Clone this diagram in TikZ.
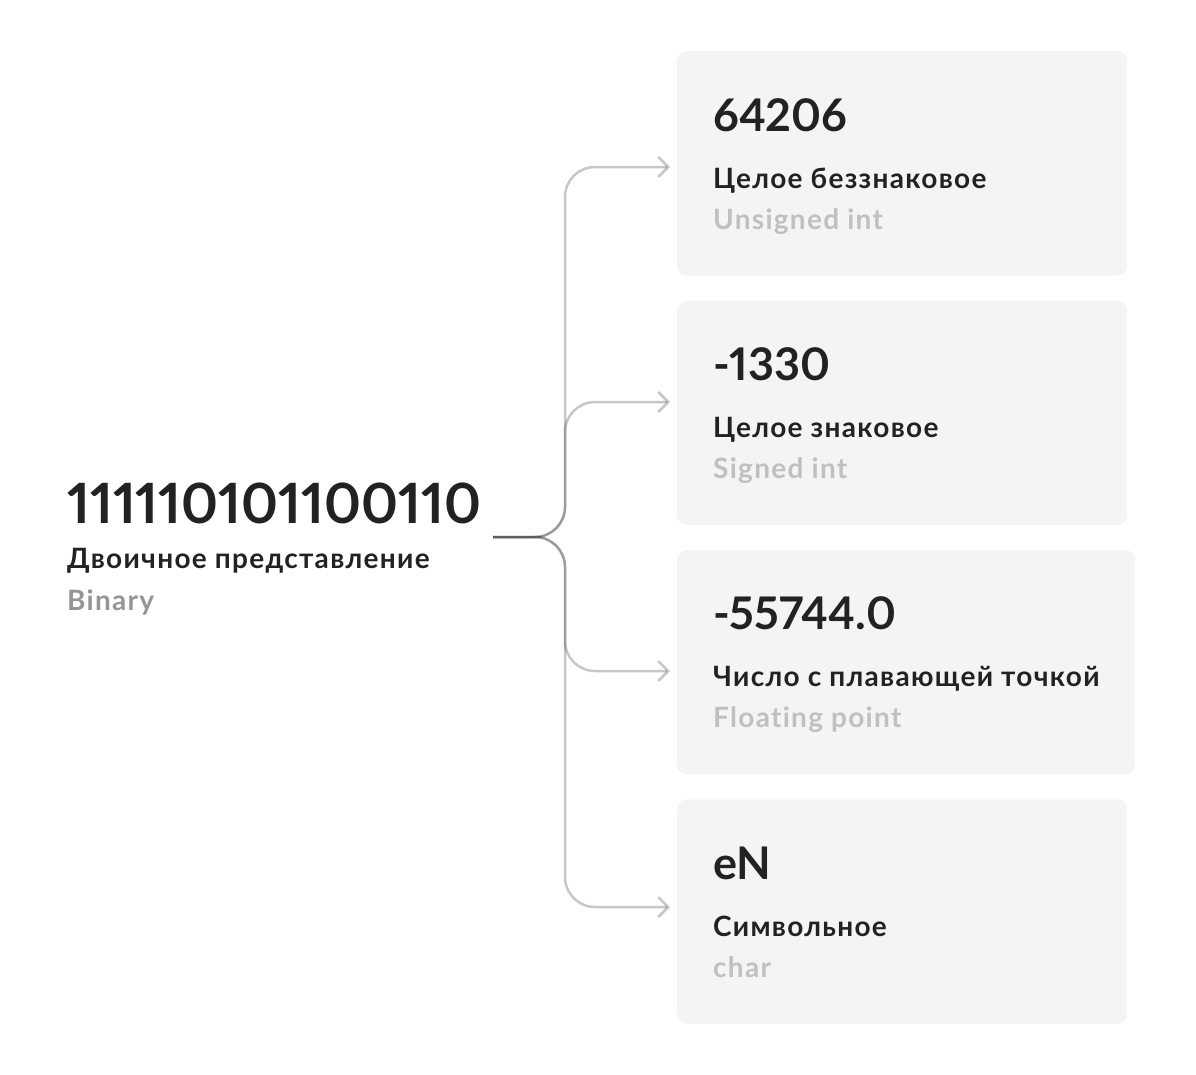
\documentclass[tikz,border=0pt]{standalone}
\usepackage{fontspec}
\setmainfont[Numbers = Proportional]{Lato}
\usepackage{tikz}
\usetikzlibrary{arrows.meta}
\usetikzlibrary{positioning}
\definecolor{ink}{HTML}{222222}
\definecolor{cardbg}{HTML}{F4F4F4}
\definecolor{midgray}{HTML}{959595}
\definecolor{lightgray}{HTML}{C0C0C0}
\tikzset{
  card/.style = {rectangle, fill = cardbg, rounded corners = 10pt,
    minimum width = 450pt, minimum height = 224.5pt, inner sep = 0pt},
  bigval/.style = {anchor = base west, inner sep = 0pt, text = ink,
    font = \fontsize{55.5}{55.5}\selectfont\bfseries},
  value/.style = {anchor = base west, inner sep = 0pt, text = ink,
    font = \fontsize{45}{45}\selectfont\bfseries},
  title/.style = {anchor = base west, inner sep = 0pt, text = ink,
    font = \fontsize{28}{28}\selectfont\bfseries\addfontfeature{LetterSpace = 4.6, Ligatures = NoCommon}},
  subtitle/.style = {title, text = lightgray},
  link/.style = {draw = black, draw opacity = 0.22, line width = 2.5pt,
    rounded corners = 30pt, -{Straight Barb[length = 10pt, width = 20pt]}},
}

\begin{document}
\begin{tikzpicture}[x = 1pt, y = -1pt]
    \useasboundingbox (0,0) rectangle (1196,1074);
    \node [bigval] (bin) at (67,523) {111110101100110};
    \node [title] (binru) at (67,568) {Двоичное представление};
    \node [subtitle, text = midgray] (binen) at (67,610) {Binary};

    \node [card, anchor = north west] (b1) at (677,51) {};
    \node [card, below = 24.5pt of b1] (b2) {};
    \node [card, minimum width = 458pt, below right = 24.5pt and 0pt of b2.south west] (b3) {};
    \node [card, below right = 24.5pt and 0pt of b3.south west] (b4) {};

    \node [value] (v1) at ([shift = {(36,80)}]b1.north west) {64206};
    \node [title] (t1) at ([shift = {(36,137)}]b1.north west) {Целое беззнаковое};
    \node [subtitle] (s1) at ([shift = {(36,178)}]b1.north west) {Unsigned int};
    \node [value] (v2) at ([shift = {(36,80)}]b2.north west) {-1330};
    \node [title] (t2) at ([shift = {(36,137)}]b2.north west) {Целое знаковое};
    \node [subtitle] (s2) at ([shift = {(36,178)}]b2.north west) {Signed int};
    \node [value] (v3) at ([shift = {(36,80)}]b3.north west) {-55744.0};
    \node [title] (t3) at ([shift = {(36,137)}]b3.north west) {Число с плавающей точкой};
    \node [subtitle] (s3) at ([shift = {(36,178)}]b3.north west) {Floating point};
    \node [value] (v4) at ([shift = {(36,80)}]b4.north west) {eN};
    \node [title] (t4) at ([shift = {(36,137)}]b4.north west) {Символьное};
    \node [subtitle] (s4) at ([shift = {(36,178)}]b4.north west) {char};

    \coordinate (src) at (493,537);
    \coordinate (a1) at (670,167);
    \coordinate (a2) at (670,402);
    \coordinate (a3) at (670,671);
    \coordinate (a4) at (670,907);
    \draw [link] (src) -- ++(72,0) |- (a1);
    \draw [link] (src) -- ++(72,0) |- (a2);
    \draw [link] (src) -- ++(72,0) |- (a3);
    \draw [link] (src) -- ++(72,0) |- (a4);
\end{tikzpicture}
\end{document}
